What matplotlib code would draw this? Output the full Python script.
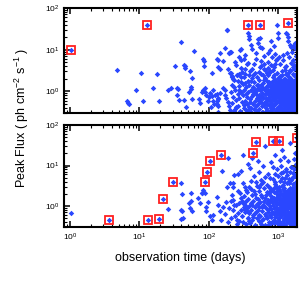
import matplotlib
matplotlib.use("Agg")
import matplotlib.pyplot as plt

plt.rcParams["font.family"] = ["Liberation Sans", "DejaVu Sans"]
plt.rcParams["mathtext.default"] = "regular"

# ---- top panel: all flares ----
top_sparse = [
    (4.8, 3.26), (10.5, 2.7), (17.7, 2.57), (45.7, 4.0), (15.8, 1.23), (9.0, 1.07),
    (26, 1.1), (28, 1.18), (35, 1.18), (34.5, 0.81), (36.5, 0.62), (6.6, 0.57),
    (6.8, 0.53), (7.1, 0.49), (11.1, 0.58), (19.1, 0.57), (40, 15.4), (33, 4.0),
    (43.6, 4.4), (44.7, 3.65), (53, 3.0), (44, 0.63), (46, 0.42), (52, 0.96),
    (56, 1.16), (58, 0.64), (61, 9.2), (83, 6.1), (86, 5.3), (86, 4.0), (109, 2.8),
    (81, 1.02), (88, 1.23), (92, 0.8), (98, 0.6), (101, 0.73), (115, 1.06),
    (122, 0.8), (129, 0.6), (136, 0.67), (136, 0.44), (180, 29.5), (136, 5.6),
    (143, 8.1), (200, 8.9), (196, 8.1), (280, 9.7), (275, 6.7), (285, 5.8),
    (237, 5.1), (245, 4.2), (190, 3.5), (200, 2.7), (212, 2.2), (250, 2.4),
    (295, 2.9), (330, 3.5), (350, 4.6), (380, 17.6), (400, 12.8), (365, 24.6),
    (540, 18.6), (510, 14.1), (540, 11.7), (710, 8.1), (750, 9.7), (960, 39),
    (990, 24.6), (990, 18.6), (1300, 24.6), (1370, 20.3), (1340, 23.6), (380, 21.5),
    (510, 18.0), (790, 16.3), (420, 10.3), (590, 10.7), (860, 12.3), (1370, 16.3),
    (1450, 13), (1530, 11.3), (1720, 14.1), (1820, 10.3), (1650, 12.5), (290, 10.3),
    (325, 5.9), (285, 3.7), (275, 2.57), (480, 6.0), (620, 7.0), (700, 5.0),
    (820, 6.5), (900, 8.0), (560, 4.0), (650, 3.3), (750, 3.0), (880, 4.5),
    (960, 6.0), (440, 4.5), (420, 3.5), (360, 4.8), (330, 7.5), (470, 8.5),
    (160, 1.18), (168, 1.06), (168, 0.81), (177, 0.68), (188, 0.56), (193, 0.44),
    (200, 0.36), (131, 0.49), (137, 0.32), (129, 0.85), (136, 0.69), (143, 0.91),
    (104, 0.93), (109, 0.76), (114, 0.58), (118, 0.49), (107, 0.42), (72.5, 0.65),
    (78.5, 0.98), (83, 1.06), (86.6, 0.95), (75, 0.51), (55.6, 1.27), (58, 2.06),
    (35.8, 1.16), (210, 2.8), (216, 2.34), (220, 1.98), (135, 3.9), (143, 3.5),
    (131, 6.1), (160, 5.4), (172, 11.0), (194, 8.1), (205, 8.6), (183, 30),
]
top_dense = [
    (205, 0.95), (212, 1.4), (218, 0.52), (224, 0.75), (230, 1.9), (236, 0.38),
    (241, 1.1), (247, 0.62), (252, 2.4), (258, 0.85), (263, 0.45), (268, 1.35),
    (274, 0.7), (279, 0.33), (285, 1.7), (290, 0.95), (296, 0.55), (232, 1.25),
    (248, 0.42), (271, 1.05), (288, 2.2), (226, 0.34), (262, 1.75),
    (305, 0.8), (310, 1.5), (315, 0.4), (322, 1.05), (328, 0.6), (333, 2.6),
    (338, 0.35), (345, 1.25), (350, 0.72), (356, 0.5), (362, 1.8), (368, 0.95),
    (374, 0.42), (380, 1.4), (386, 0.65), (392, 3.1), (398, 0.32), (405, 1.1),
    (412, 0.78), (418, 2.1), (425, 0.5), (432, 1.3), (438, 0.88), (445, 0.37),
    (452, 1.65), (458, 0.6), (465, 2.8), (472, 1.0), (478, 0.45), (485, 1.45),
    (492, 0.7), (498, 0.34), (318, 2.2), (342, 0.88), (366, 0.36), (395, 0.56),
    (428, 2.5), (455, 1.05), (488, 2.2), (335, 1.6), (372, 2.4), (410, 0.4),
    (447, 0.95), (482, 0.85), (322, 0.48), (400, 1.75),
    (505, 1.2), (512, 0.5), (520, 0.82), (527, 1.9), (535, 0.38), (542, 1.05),
    (550, 0.62), (557, 2.6), (565, 1.4), (572, 0.44), (580, 0.9), (588, 0.32),
    (596, 1.6), (604, 0.7), (612, 3.4), (620, 1.15), (628, 0.52), (636, 2.1),
    (645, 0.85), (653, 0.4), (662, 1.3), (670, 0.6), (679, 1.8), (688, 0.95),
    (697, 0.35), (706, 2.4), (715, 1.1), (724, 0.48), (733, 0.75), (742, 1.5),
    (752, 0.33), (761, 2.9), (771, 0.88), (780, 1.25), (790, 0.56), (800, 0.42),
    (810, 1.7), (820, 1.0), (830, 0.66), (840, 2.2), (851, 0.37), (862, 1.35),
    (873, 0.8), (884, 0.5), (895, 1.9), (906, 1.05), (917, 0.31), (929, 0.72),
    (941, 2.7), (953, 1.45), (965, 0.58), (977, 0.9), (990, 0.4),
    (515, 1.45), (530, 2.9), (548, 0.75), (562, 0.56), (585, 1.25), (600, 2.4),
    (615, 0.46), (640, 1.05), (658, 0.7), (675, 2.7), (692, 0.5), (710, 0.88),
    (728, 1.7), (746, 0.62), (765, 1.35), (785, 0.36), (805, 0.9), (825, 3.2),
    (845, 1.15), (868, 0.46), (890, 0.95), (912, 1.6), (935, 0.52), (958, 1.2),
    (982, 2.1), (525, 0.6), (555, 1.15), (590, 0.78), (625, 1.85), (665, 0.34),
    (700, 1.45), (738, 1.02), (775, 0.5), (815, 0.78), (857, 2.5), (900, 0.62),
    (945, 0.82), (988, 1.3), (540, 3.8), (620, 4.5), (700, 3.6), (780, 4.2),
    (860, 3.9), (940, 5.5), (560, 5.2),
    (1005, 0.6), (1015, 1.5), (1025, 0.35), (1035, 0.95), (1045, 2.3), (1056, 0.48),
    (1067, 1.2), (1078, 0.75), (1089, 1.9), (1100, 0.4), (1112, 1.05), (1124, 0.6),
    (1136, 3.0), (1148, 0.85), (1160, 1.4), (1172, 0.33), (1184, 0.7), (1197, 2.0),
    (1210, 1.1), (1223, 0.5), (1236, 0.9), (1249, 1.6), (1262, 0.38), (1275, 2.6),
    (1288, 0.78), (1302, 1.25), (1316, 0.55), (1330, 0.95), (1344, 1.8), (1358, 0.42),
    (1372, 1.15), (1386, 0.65), (1401, 2.2), (1416, 0.32), (1431, 0.88), (1446, 1.45),
    (1461, 0.52), (1476, 1.0), (1492, 3.3), (1508, 0.72), (1524, 1.3), (1540, 0.45),
    (1556, 1.9), (1573, 0.6), (1590, 1.05), (1607, 0.36), (1624, 1.6), (1641, 0.82),
    (1659, 2.4), (1677, 0.5), (1695, 1.2), (1713, 0.7), (1731, 0.4), (1750, 1.75),
    (1769, 0.95), (1788, 0.58), (1807, 1.4), (1826, 0.34), (1845, 2.8), (1860, 0.8),
    (1010, 1.1), (1030, 0.7), (1050, 1.6), (1072, 0.42), (1095, 1.35), (1118, 2.5),
    (1142, 0.55), (1166, 0.95), (1190, 1.25), (1215, 0.68), (1240, 3.8), (1266, 1.05),
    (1292, 0.46), (1320, 1.55), (1348, 0.75), (1376, 2.8), (1405, 0.5), (1435, 1.2),
    (1465, 0.7), (1495, 2.1), (1526, 0.4), (1558, 1.05), (1590, 1.45), (1622, 0.55),
    (1656, 0.95), (1690, 3.5), (1725, 1.3), (1760, 0.62), (1796, 2.0), (1833, 1.05),
    (1020, 2.0), (1060, 0.85), (1105, 0.58), (1150, 1.8), (1200, 0.45), (1250, 1.3),
    (1300, 0.62), (1350, 2.4), (1400, 0.9), (1450, 0.36), (1500, 1.5), (1550, 0.8),
    (1600, 2.6), (1650, 0.44), (1700, 0.88), (1750, 1.1), (1800, 0.5), (1850, 1.6),
    (1040, 0.52), (1080, 1.45), (1130, 0.38), (1180, 1.05), (1230, 1.95), (1280, 0.58),
    (1335, 1.0), (1390, 0.46), (1445, 2.0), (1500, 0.62), (1560, 0.35), (1620, 1.25),
    (1680, 0.6), (1740, 2.3), (1800, 0.82), (1860, 0.42),
    (1070, 4.5), (1180, 5.5), (1290, 4.0), (1400, 6.5), (1500, 4.8), (1600, 5.8),
    (1700, 4.3), (1800, 7.0), (1150, 7.5), (1350, 8.5), (1550, 9.0), (1750, 11),
    (1850, 5.0), (1020, 6.5), (1250, 3.2), (1450, 3.0), (1650, 3.9), (1850, 3.4),
]
# the most crowded corner (late times, faint flares)
top_core = [
    (720, 0.62), (760, 1.05), (800, 0.75), (840, 0.48), (880, 1.15), (920, 0.9),
    (960, 0.4), (1000, 1.3), (1040, 0.78), (1090, 0.5), (1140, 1.2), (1190, 0.88),
    (1240, 0.44), (1290, 1.02), (1340, 0.6), (1390, 1.35), (1440, 0.75), (1490, 0.42),
    (1540, 1.15), (1590, 0.68), (1640, 1.4), (1690, 0.36), (1740, 0.95), (1790, 1.25),
    (1840, 0.7), (740, 1.6), (790, 0.4), (850, 1.75), (910, 0.34), (970, 1.6),
    (1030, 0.43), (1100, 1.7), (1170, 0.62), (1250, 1.65), (1330, 0.36), (1410, 1.8),
    (1490, 0.95), (1570, 1.7), (1650, 0.62), (1730, 1.55), (1810, 1.15), (1860, 1.9),
    (950, 1.05), (1060, 0.62), (1200, 0.33), (1310, 0.8), (1420, 0.58), (1530, 0.55),
    (1620, 0.95), (1710, 0.52), (1780, 0.38), (1830, 0.55), (1760, 0.8), (1580, 0.42),
    (1380, 0.52), (1180, 0.78), (1010, 0.82), (870, 0.62), (1120, 0.95), (1270, 1.2),
    (1470, 1.25), (1670, 1.1), (1850, 0.95), (1700, 1.7), (1550, 1.5), (1360, 1.55),
    (1150, 1.5), (990, 1.65), (830, 1.45),
]
top_marked = [(1.02, 9.9), (12.9, 38.3), (364, 38.9), (536, 39.4), (1371, 44.3)]

# ---- bottom panel ----
bot_sparse = [
    (1.03, 0.65), (26, 0.85), (39, 3.6), (41, 1.96), (41, 0.75), (39, 0.47),
    (54.5, 2.04), (56, 1.35), (53, 0.88), (58, 0.73), (40, 0.77), (42.3, 0.5),
    (52.5, 1.2), (80, 2.1), (86.6, 2.1), (188, 15.6), (155, 7.3), (233, 5.9),
    (219, 3.7), (223, 2.95), (70, 1.54), (74, 1.16), (78.5, 2.04), (83, 2.45),
    (90, 0.96), (92, 0.73), (98, 1.27), (103, 0.55), (109, 0.46), (115, 0.6),
    (129, 1.69), (136, 1.06), (143, 0.73), (151, 0.46), (160, 0.96), (180, 2.95),
    (200, 3.6), (212, 1.85), (219, 1.4), (223, 0.8), (237, 0.55), (245, 1.06),
    (255, 0.46), (265, 0.66), (280, 2.04), (285, 1.54), (305, 3.6), (320, 0.96),
    (340, 2.45), (350, 0.73), (365, 0.5), (310, 18.3), (650, 30.6), (1450, 35.6),
    (365, 11), (385, 8.8), (510, 13.2), (790, 12.1), (830, 9.1), (880, 6.3),
    (1220, 16), (1370, 13.2), (1530, 9.1), (1720, 21), (1800, 11), (260, 6.3),
    (290, 7.5), (520, 7.0), (600, 9.5), (700, 6.0), (450, 5.5), (560, 4.5),
    (960, 8.0), (1050, 14), (1100, 10), (1150, 7.0), (1300, 8.0), (1600, 6.5),
    (1700, 14.5), (1850, 8.5), (400, 4.2), (480, 3.8), (640, 5.2), (760, 4.8),
    (900, 4.0), (1000, 5.5), (1250, 5.0), (1400, 4.6), (1650, 5.2), (1850, 4.2),
    (1120, 24), (900, 18), (420, 15), (168, 0.62), (175, 1.25), (190, 0.4),
    (195, 0.9), (205, 1.3), (208, 0.5), (228, 1.05), (250, 0.35), (258, 2.4),
    (270, 1.15), (275, 0.42), (290, 0.8), (298, 1.35),
]
bot_dense = [
    (302, 0.55), (308, 1.2), (314, 0.4), (320, 1.75), (327, 0.7), (334, 1.05),
    (341, 0.35), (348, 2.2), (355, 0.9), (362, 0.5), (369, 1.45), (376, 0.65),
    (383, 2.9), (390, 0.38), (398, 1.15), (406, 0.8), (414, 1.9), (422, 0.45),
    (430, 1.3), (438, 0.6), (446, 2.4), (454, 0.95), (462, 0.33), (470, 1.6),
    (478, 0.72), (486, 3.2), (494, 1.1), (316, 0.85), (344, 1.35), (372, 0.42),
    (402, 2.6), (432, 0.52), (466, 1.95), (490, 0.5), (336, 3.0), (418, 1.05),
    (458, 0.68), (380, 1.0),
    (502, 0.8), (510, 1.5), (518, 0.42), (526, 2.3), (534, 0.95), (543, 0.55),
    (552, 1.25), (561, 3.5), (570, 0.36), (579, 1.7), (588, 0.75), (597, 1.05),
    (606, 0.48), (615, 2.7), (625, 1.3), (635, 0.62), (645, 0.34), (655, 1.9),
    (665, 0.88), (675, 1.15), (685, 0.5), (695, 2.2), (705, 0.72), (716, 1.4),
    (727, 0.4), (738, 3.0), (749, 1.0), (760, 0.58), (771, 1.8), (782, 0.82),
    (793, 0.37), (805, 1.25), (817, 2.5), (829, 0.66), (841, 1.05), (853, 0.45),
    (865, 1.6), (878, 0.9), (891, 3.4), (904, 0.52), (917, 1.2), (930, 0.74),
    (943, 2.0), (956, 0.4), (970, 1.45), (984, 0.85), (998, 2.6),
    (506, 1.1), (530, 0.6), (556, 1.9), (584, 0.45), (612, 1.0), (640, 1.6),
    (670, 0.55), (700, 1.2), (730, 2.1), (762, 0.9), (795, 1.5), (828, 0.42),
    (862, 2.2), (896, 1.35), (932, 0.6), (968, 1.1), (520, 3.0), (600, 4.0),
    (680, 3.3), (760, 2.8), (850, 4.6), (940, 3.1), (575, 0.95), (720, 0.33),
    (880, 0.62), (990, 0.36),
    (1004, 1.2), (1014, 0.5), (1024, 1.8), (1034, 0.7), (1045, 1.05), (1056, 0.38),
    (1067, 2.4), (1078, 0.9), (1089, 1.4), (1100, 0.55), (1112, 3.1), (1124, 0.8),
    (1136, 1.2), (1148, 0.42), (1160, 1.9), (1172, 0.65), (1185, 1.05), (1198, 2.7),
    (1211, 0.48), (1224, 1.5), (1237, 0.85), (1250, 0.34), (1264, 2.1), (1278, 1.15),
    (1292, 0.6), (1306, 1.7), (1320, 0.95), (1335, 3.6), (1350, 0.44), (1365, 1.3),
    (1380, 0.7), (1395, 2.3), (1410, 1.0), (1426, 0.52), (1442, 1.6), (1458, 0.36),
    (1474, 2.8), (1490, 0.88), (1507, 1.25), (1524, 0.6), (1541, 1.95), (1558, 0.4),
    (1575, 1.1), (1593, 0.75), (1611, 2.5), (1629, 1.4), (1647, 0.5), (1665, 0.95),
    (1684, 1.8), (1703, 0.33), (1722, 1.2), (1741, 0.68), (1760, 3.0), (1780, 1.05),
    (1800, 0.55), (1820, 1.55), (1840, 0.85), (1860, 2.1),
    (1008, 0.85), (1028, 2.9), (1050, 0.6), (1072, 1.6), (1095, 0.32), (1118, 1.1),
    (1142, 2.0), (1166, 0.75), (1190, 0.5), (1215, 1.3), (1240, 2.2), (1266, 0.7),
    (1292, 1.0), (1320, 0.4), (1348, 1.45), (1376, 2.5), (1405, 0.62), (1435, 1.05),
    (1465, 1.9), (1495, 0.45), (1526, 0.9), (1558, 1.5), (1590, 0.35), (1622, 1.15),
    (1656, 2.3), (1690, 0.6), (1725, 1.6), (1760, 0.9), (1796, 0.4), (1833, 1.3),
    (1018, 0.42), (1060, 1.25), (1108, 0.7), (1156, 1.55), (1206, 0.36), (1256, 0.95),
    (1310, 1.85), (1362, 0.55), (1418, 1.2), (1474, 0.72), (1532, 1.35), (1590, 2.0),
    (1650, 0.7), (1710, 1.05), (1770, 0.48), (1840, 0.62),
    (1040, 4.2), (1130, 5.0), (1220, 3.8), (1320, 5.8), (1420, 3.6), (1520, 4.4),
    (1620, 3.4), (1720, 5.5), (1820, 3.7), (1090, 6.5), (1270, 7.5), (1470, 6.8),
    (1670, 8.2), (1860, 6.0), (1180, 3.3), (1380, 3.9), (1580, 5.0), (1780, 4.0),
]
bot_core = [
    (710, 0.78), (750, 1.3), (790, 0.52), (830, 1.55), (870, 0.38), (910, 0.95),
    (955, 1.7), (1000, 0.66), (1050, 1.4), (1100, 0.9), (1150, 0.34), (1200, 1.05),
    (1250, 1.75), (1300, 0.5), (1350, 1.15), (1400, 0.4), (1450, 1.4), (1500, 0.75),
    (1550, 1.2), (1600, 0.5), (1650, 1.5), (1700, 0.8), (1750, 1.35), (1800, 0.36),
    (1850, 1.75), (760, 2.3), (860, 2.7), (960, 2.3), (1060, 2.0), (1160, 2.6),
    (1260, 2.4), (1360, 2.0), (1460, 2.2), (1560, 2.7), (1660, 2.0), (1760, 2.4),
    (1850, 2.7), (980, 0.5), (1120, 0.62), (1230, 0.6), (1330, 0.82), (1440, 0.55),
    (1540, 0.38), (1630, 0.88), (1730, 0.42), (1820, 1.0), (1700, 1.15), (1500, 1.65),
    (1280, 1.35), (1080, 1.15), (900, 1.3), (820, 0.7), (1190, 1.6), (1400, 1.7),
    (1600, 1.85), (1790, 1.5), (1860, 0.5), (1660, 0.34), (1470, 0.48), (1050, 0.36),
]
bot_marked = [
    (3.68, 0.44), (13.1, 0.456), (19.1, 0.47), (21.6, 1.46), (30.6, 3.85),
    (88.5, 3.9), (94.5, 6.75), (102, 12.7), (147, 17.8), (434, 20.4),
    (479, 39.2), (826, 40.0), (1007, 40.7), (1865, 47.4),
]

blue = "#2a47ff"
red = "#ff2020"

fig = plt.figure(figsize=(3.08, 2.87), dpi=100)
ax1 = fig.add_axes([0.208, 0.606, 0.756, 0.366])
ax2 = fig.add_axes([0.208, 0.209, 0.756, 0.355])

panels = [
    (ax1, top_sparse + top_dense + top_core, top_marked),
    (ax2, bot_sparse + bot_dense + bot_core, bot_marked),
]
for ax, pts, marked in panels:
    allp = pts + marked
    ax.plot([p[0] for p in allp], [p[1] for p in allp], "D", color=blue,
            ms=2.8, mew=0, linestyle="none")
    ax.plot([p[0] for p in marked], [p[1] for p in marked], "s", mfc="none",
            mec=red, ms=5.8, mew=1.3, linestyle="none")
    ax.set_xscale("log")
    ax.set_yscale("log")
    ax.set_xlim(0.82, 1850)
    ax.set_ylim(0.3, 100)
    for s in ax.spines.values():
        s.set_linewidth(1.5)
    ax.tick_params(which="both", direction="in", top=True, right=True,
                   labelsize=6)
    ax.tick_params(which="major", length=4, width=1.1)
    ax.tick_params(which="minor", length=2.2, width=0.8)

ax1.tick_params(labelbottom=False)
ax2.set_xlabel("observation time (days)", fontsize=9, labelpad=6)
fig.text(0.07, 0.59, "Peak Flux ( ph cm$^{-2}$ s$^{-1}$ )", rotation=90,
         ha="center", va="center", fontsize=9)

fig.savefig("out.png", dpi=100)
